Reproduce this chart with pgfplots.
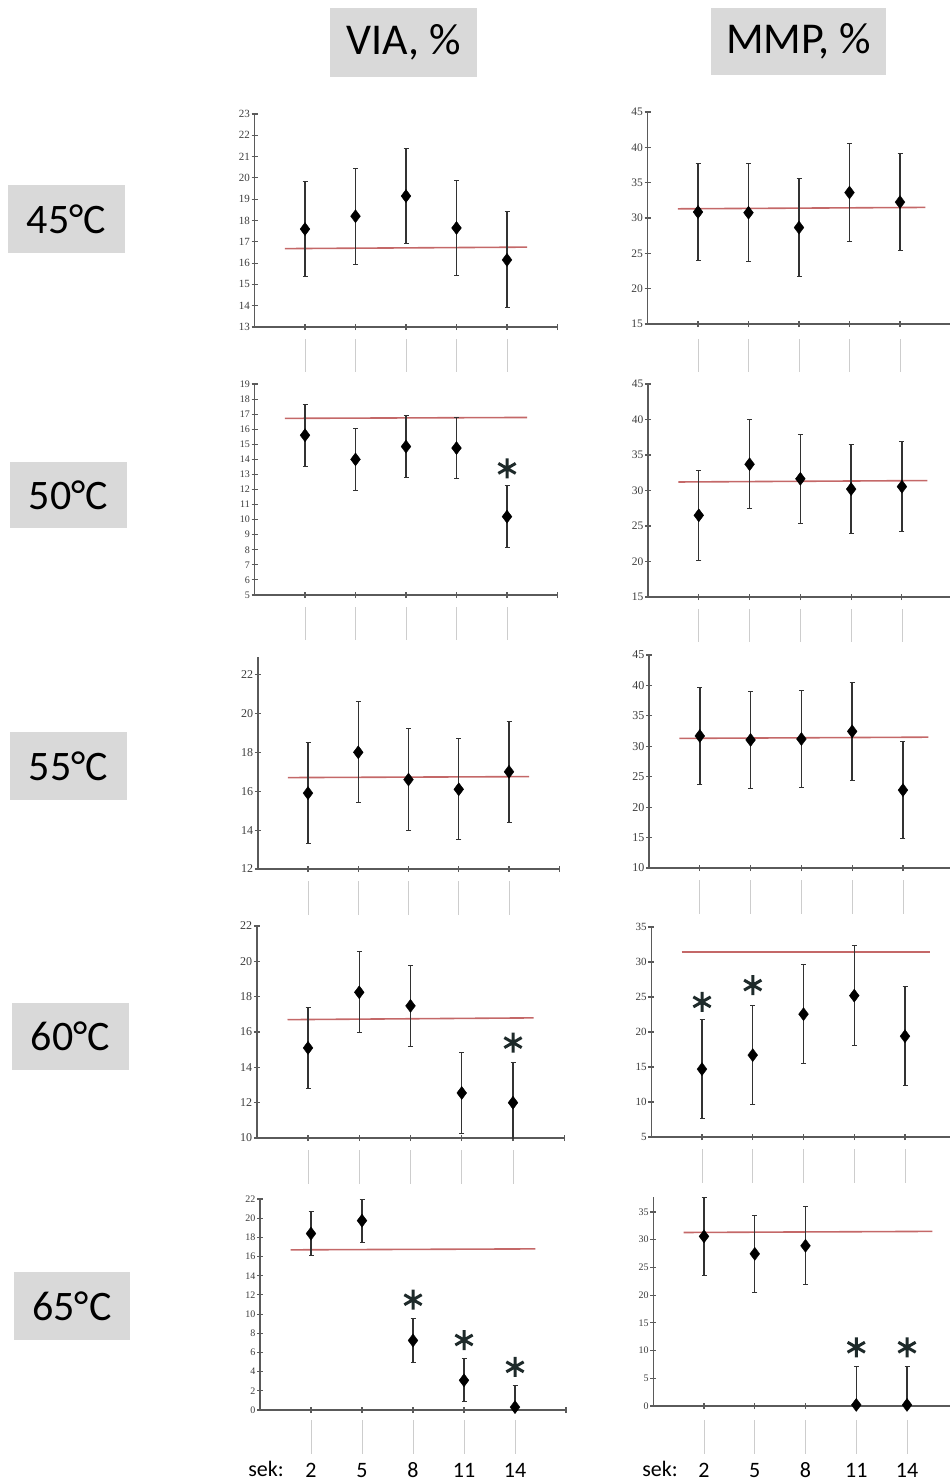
\documentclass[border=0pt]{standalone}
\usepackage{pgfplots}
\pgfplotsset{compat=1.18}
\usepackage{fontspec}
\setmainfont{Carlito}
\newfontfamily\tickfont{Liberation Serif}
\definecolor{axgray}{RGB}{90,90,90}
\definecolor{labgray}{RGB}{60,60,60}
\definecolor{boxgray}{RGB}{217,217,217}
\definecolor{refred}{RGB}{196,104,104}
\definecolor{stargray}{RGB}{30,42,42}
\definecolor{sepgray}{RGB}{205,205,205}
\definecolor{errgray}{RGB}{50,50,50}
\tikzset{sepline/.style={sepgray, line width=0.8pt}}
\pgfplotsset{
  panel/.style={
    scale only axis, anchor=south west,
    axis x line=bottom, axis y line=left,
    axis line style={-, draw=axgray, line width=1.5pt},
    xmin=-1, xmax=17,
    xtick={2,5,8,11,14}, xticklabels={},
    extra x ticks={17}, extra x tick labels={},
    tick align=center, major tick length=6pt,
    tick style={draw=axgray, line width=1.1pt},
    clip mode=individual,
    /pgf/number format/assume math mode=true,
    yticklabel style={text=labgray, inner sep=1.5pt},
  },
  tf/.style={yticklabel style={font=\tickfont\fontsize{#1}{#1}\selectfont}},
  means/.style={only marks, mark=diamond*, mark size=6.5pt, color=black,
    error bars/.cd, y dir=both, y explicit,
    error bar style={errgray, line width=1.4pt},
    error mark options={rotate=90, mark size=2.5pt, line width=1pt, errgray}},
  ref/.style={refred, line width=1.6pt, no marks},
  star/.style={only marks, mark=asterisk, mark size=10pt, mark options={line width=3pt, stargray}},
  bottomrow/.style={xticklabels={2,5,8,11,14},
    xticklabel style={font=\fontsize{22}{22}\selectfont, anchor=base, yshift=#1, text=black}},
}
\begin{document}
\begin{tikzpicture}
\useasboundingbox (0pt,0pt) rectangle (950pt,-1480pt);

% ---------- 45 C ----------
\begin{axis}[panel, tf=11, at={(254.5pt,-327pt)}, width=303pt, height=213pt,
  ymin=13, ymax=23, ytick={13,14,...,23}]
\addplot[ref] coordinates {(0.8,16.68) (15.2,16.75)};
\addplot[means] table[x=x,y=y,y error=e] {
x y e
2 17.6 2.25
5 18.2 2.25
8 19.15 2.25
11 17.65 2.25
14 16.15 2.25
};
\pgfplotsinvokeforeach{2,5,8,11,14}{\draw[sepline] ([yshift=-12pt]axis cs:#1,13) -- ([yshift=-45pt]axis cs:#1,13);}
\end{axis}
\begin{axis}[panel, tf=11.5, at={(647.5pt,-324pt)}, width=303pt, height=212pt,
  ymin=15, ymax=45, ytick={15,20,...,45}]
\addplot[ref] coordinates {(0.8,31.3) (15.5,31.5)};
\addplot[means] table[x=x,y=y,y error=e] {
x y e
2 30.85 6.9
5 30.75 6.9
8 28.65 6.9
11 33.6 6.9
14 32.25 6.9
};
\pgfplotsinvokeforeach{2,5,8,11,14}{\draw[sepline] ([yshift=-15pt]axis cs:#1,15) -- ([yshift=-48pt]axis cs:#1,15);}
\end{axis}

% ---------- 50 C ----------
\begin{axis}[panel, tf=10, at={(254.5pt,-595pt)}, width=303pt, height=211pt,
  ymin=5, ymax=19, ytick={5,6,...,19}]
\addplot[ref] coordinates {(0.8,16.72) (15.2,16.78)};
\addplot[means] table[x=x,y=y,y error=e] {
x y e
2 15.6 2.05
5 14.0 2.05
8 14.85 2.05
11 14.75 2.05
14 10.2 2.05
};
\addplot[star] coordinates {(14,13.4)};
\pgfplotsinvokeforeach{2,5,8,11,14}{\draw[sepline] ([yshift=-12pt]axis cs:#1,5) -- ([yshift=-45pt]axis cs:#1,5);}
\end{axis}
\begin{axis}[panel, tf=11.5, at={(648pt,-597pt)}, width=304.7pt, height=213pt,
  ymin=15, ymax=45, ytick={15,20,...,45}]
\addplot[ref] coordinates {(0.8,31.2) (15.5,31.4)};
\addplot[means] table[x=x,y=y,y error=e] {
x y e
2 26.5 6.3
5 33.7 6.3
8 31.65 6.3
11 30.2 6.3
14 30.55 6.3
};
\pgfplotsinvokeforeach{2,5,8,11,14}{\draw[sepline] ([yshift=-12pt]axis cs:#1,15) -- ([yshift=-45pt]axis cs:#1,15);}
\end{axis}

% ---------- 55 C ----------
\begin{axis}[panel, tf=12, at={(257.75pt,-869pt)}, width=301.5pt, height=212pt,
  ymin=12, ymax=22.9, ytick={12,14,...,22}]
\addplot[ref] coordinates {(0.8,16.7) (15.2,16.75)};
\addplot[means] table[x=x,y=y,y error=e] {
x y e
2 15.9 2.6
5 18.0 2.6
8 16.6 2.6
11 16.1 2.6
14 17.0 2.6
};
\pgfplotsinvokeforeach{2,5,8,11,14}{\draw[sepline] ([yshift=-12pt]axis cs:#1,12) -- ([yshift=-46pt]axis cs:#1,12);}
\end{axis}
\begin{axis}[panel, tf=12, at={(649pt,-868pt)}, width=304.75pt, height=213pt,
  ymin=10, ymax=45, ytick={10,15,...,45}]
\addplot[ref] coordinates {(0.8,31.3) (15.5,31.5)};
\addplot[means] table[x=x,y=y,y error=e] {
x y e
2 31.7 8.0
5 31.05 8.0
8 31.2 8.0
11 32.45 8.0
14 22.8 8.0
};
\pgfplotsinvokeforeach{2,5,8,11,14}{\draw[sepline] ([yshift=-12pt]axis cs:#1,10) -- ([yshift=-46pt]axis cs:#1,10);}
\end{axis}

% ---------- 60 C ----------
\begin{axis}[panel, tf=12, at={(256.75pt,-1138pt)}, width=307.5pt, height=212pt,
  ymin=10, ymax=22, ytick={10,12,...,22}]
\addplot[ref] coordinates {(0.8,16.7) (15.2,16.8)};
\addplot[means] table[x=x,y=y,y error=e] {
x y e
2 15.1 2.3
5 18.25 2.3
8 17.48 2.3
11 12.55 2.3
14 12.0 2.3
};
\addplot[star] coordinates {(14,15.4)};
\pgfplotsinvokeforeach{2,5,8,11,14}{\draw[sepline] ([yshift=-12pt]axis cs:#1,10) -- ([yshift=-46pt]axis cs:#1,10);}
\end{axis}
\begin{axis}[panel, tf=11, at={(651.25pt,-1137pt)}, width=304.5pt, height=210pt,
  ymin=5, ymax=35, ytick={5,10,...,35}]
\addplot[ref] coordinates {(0.8,31.4) (15.5,31.4)};
\addplot[means] table[x=x,y=y,y error=e] {
x y e
2 14.7 7.1
5 16.7 7.1
8 22.55 7.1
11 25.2 7.1
14 19.4 7.1
};
\addplot[star] coordinates {(2,24.3) (5,26.7)};
\pgfplotsinvokeforeach{2,5,8,11,14}{\draw[sepline] ([yshift=-12pt]axis cs:#1,5) -- ([yshift=-46pt]axis cs:#1,5);}
\end{axis}

% ---------- 65 C ----------
\begin{axis}[panel, bottomrow=-64pt, tf=10, at={(260pt,-1410pt)}, width=306pt, height=211pt,
  ymin=0, ymax=22, ytick={0,2,...,22}]
\addplot[ref] coordinates {(0.8,16.7) (15.2,16.8)};
\addplot[means] table[x=x,y=y,y error=e] {
x y e
2 18.4 2.25
5 19.75 2.25
8 7.25 2.25
11 3.1 2.25
14 0.3 2.3
};
\addplot[star] coordinates {(8,11.5) (11,7.3) (14,4.5)};
\pgfplotsinvokeforeach{2,5,8,11,14}{\draw[sepline] ([yshift=-10pt]axis cs:#1,0) -- ([yshift=-44pt]axis cs:#1,0);}
\end{axis}
\begin{axis}[panel, bottomrow=-68pt, tf=10, at={(653.25pt,-1406pt)}, width=304.5pt, height=209pt,
  ymin=0, ymax=37.7, ytick={0,5,...,35}]
\addplot[ref] coordinates {(0.8,31.3) (15.5,31.5)};
\addplot[means] table[x=x,y=y,y error=e] {
x y e
2 30.6 7.0
5 27.45 7.0
8 28.9 7.0
11 0.2 7.0
14 0.2 7.0
};
\addplot[star] coordinates {(11,10.6) (14,10.6)};
\pgfplotsinvokeforeach{2,5,8,11,14}{\draw[sepline] ([yshift=-14pt]axis cs:#1,0) -- ([yshift=-48pt]axis cs:#1,0);}
\end{axis}

% ---------- headers ----------
\fill[boxgray] (330pt,-8pt) rectangle (477pt,-77pt);
\node[font=\fontsize{44}{44}\selectfont] at (403.5pt,-42.5pt) {VIA, \%};
\fill[boxgray] (711pt,-8pt) rectangle (886pt,-75pt);
\node[font=\fontsize{44}{44}\selectfont] at (798.5pt,-41.5pt) {MMP, \%};

\fill[boxgray] (8pt,-185pt) rectangle (125pt,-253pt);
\node[font=\fontsize{42}{42}\selectfont] at (66.5pt,-219pt) {45°C};
\fill[boxgray] (10pt,-462pt) rectangle (127pt,-528pt);
\node[font=\fontsize{42}{42}\selectfont] at (68.5pt,-495pt) {50°C};
\fill[boxgray] (10pt,-732pt) rectangle (127pt,-800pt);
\node[font=\fontsize{42}{42}\selectfont] at (68.5pt,-766pt) {55°C};
\fill[boxgray] (12pt,-1003pt) rectangle (129pt,-1070pt);
\node[font=\fontsize{42}{42}\selectfont] at (70.5pt,-1036.5pt) {60°C};
\fill[boxgray] (14pt,-1272pt) rectangle (130pt,-1340pt);
\node[font=\fontsize{42}{42}\selectfont] at (72pt,-1306pt) {65°C};

\node[font=\fontsize{22}{22}\selectfont, anchor=base] at (266pt,-1476pt) {sek:};
\node[font=\fontsize{22}{22}\selectfont, anchor=base] at (660pt,-1476pt) {sek:};
\end{tikzpicture}
\end{document}
